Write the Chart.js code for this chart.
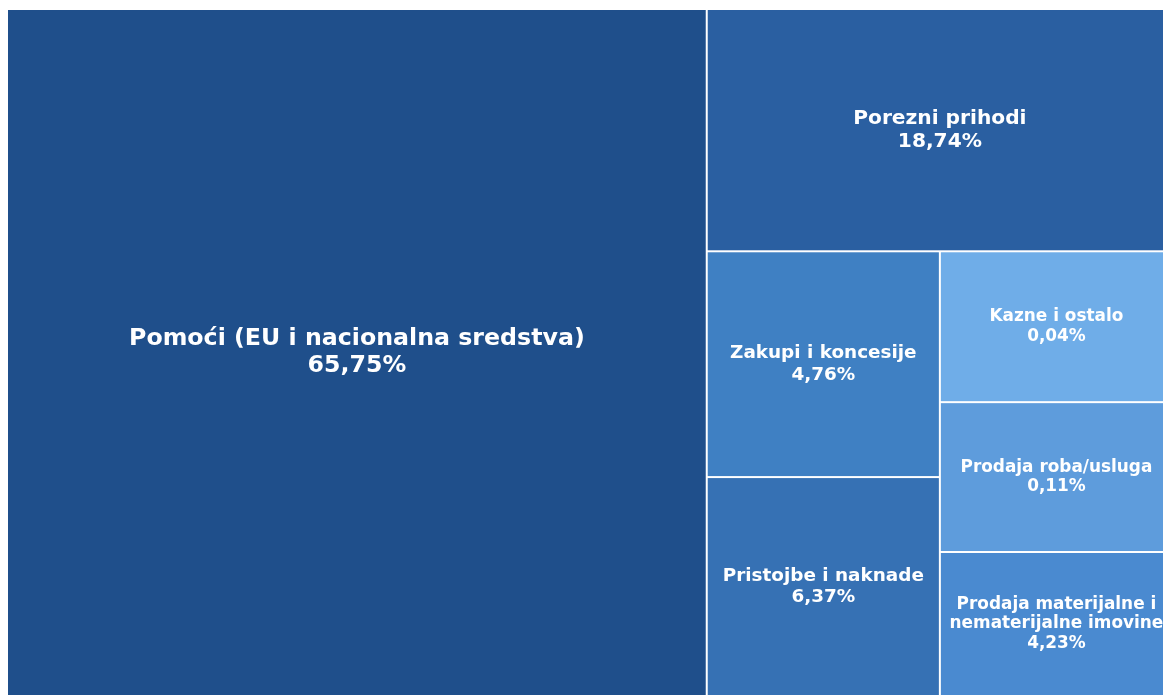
<!DOCTYPE html>
<html>
<head>
<meta charset="utf-8">
<title>Struktura prihoda</title>
<script src="https://cdn.jsdelivr.net/npm/chart.js@4.4.1/dist/chart.umd.min.js"></script>
<style>
  html, body { margin: 0; padding: 0; background: #fff; overflow: hidden; }
  #wrap { position: absolute; left: 7px; top: 9px; width: 1166px; height: 687px; }
</style>
</head>
<body>
<div id="wrap"><canvas id="treemap"></canvas></div>
<script>
const categories = [
  'Pomoći (EU i nacionalna sredstva)',
  'Porezni prihodi',
  'Zakupi i koncesije',
  'Pristojbe i naknade',
  'Kazne i ostalo',
  'Prodaja roba/usluga',
  'Prodaja materijalne i nematerijalne imovine'
];
// share shown on each tile (%)
const shares = [65.75, 18.74, 4.76, 6.37, 0.04, 0.11, 4.23];
// relative tile areas as they appear in the picture
const tileWeights = [60.0, 14.1, 6.57, 6.37, 4.39, 4.36, 4.19];

const tileColors = ['#1f4f8b', '#2a5fa1', '#3f80c3', '#3671b4', '#6fade8', '#5e9cdc', '#4a8ad0'];
const labelFont = '"DejaVu Sans", sans-serif';

function worst(row, side) {
  const s = row.reduce((a, b) => a + b.area, 0);
  const max = Math.max(...row.map(r => r.area));
  const min = Math.min(...row.map(r => r.area));
  return Math.max(side * side * max / (s * s), (s * s) / (side * side * min));
}

// squarified layout, keeps the given order
function squarify(weights, rect) {
  const total = weights.reduce((a, b) => a + b, 0);
  const k = rect.w * rect.h / total;
  const items = weights.map((w, i) => ({ i, area: w * k }));
  const out = [];
  let r = { ...rect };
  let pos = 0;
  while (pos < items.length) {
    const side = Math.min(r.w, r.h);
    const row = [items[pos]];
    pos++;
    while (pos < items.length && worst(row.concat(items[pos]), side) <= worst(row, side)) {
      row.push(items[pos]);
      pos++;
    }
    const sum = row.reduce((a, b) => a + b.area, 0);
    if (r.w >= r.h) {
      const colW = sum / r.h;
      let y = r.y;
      row.forEach(it => {
        const h = it.area / colW;
        out[it.i] = { x: r.x, y: y, w: colW, h: h };
        y += h;
      });
      r.x += colW; r.w -= colW;
    } else {
      const rowH = sum / r.w;
      let x = r.x;
      row.forEach(it => {
        const w = it.area / rowH;
        out[it.i] = { x: x, y: r.y, w: w, h: rowH };
        x += w;
      });
      r.y += rowH; r.h -= rowH;
    }
  }
  return out;
}

function wrapText(ctx, text, maxW) {
  const words = text.split(' ');
  const lines = [];
  let cur = '';
  words.forEach(w => {
    const test = cur ? cur + ' ' + w : w;
    if (ctx.measureText(test).width > maxW && cur) {
      lines.push(cur);
      cur = w;
    } else {
      cur = test;
    }
  });
  if (cur) lines.push(cur);
  return lines;
}

function fontFor(area) {
  if (area > 300000) return 23.7;
  if (area > 80000) return 20.2;
  if (area > 45000) return 18.4;
  return 16.9;
}

const treemapTiles = {
  id: 'treemapTiles',
  afterDatasetsDraw(chart) {
    const { ctx, scales } = chart;
    const x0 = scales.x.getPixelForValue(0);
    const x1 = scales.x.getPixelForValue(100);
    const y0 = scales.y.getPixelForValue(100);
    const y1 = scales.y.getPixelForValue(0);
    const rects = squarify(tileWeights, { x: Math.min(x0, x1), y: Math.min(y0, y1), w: Math.abs(x1 - x0), h: Math.abs(y1 - y0) });

    ctx.save();
    rects.forEach((rc, i) => {
      ctx.fillStyle = tileColors[i];
      ctx.fillRect(rc.x + 1, rc.y + 1, rc.w - 2, rc.h - 2);
    });

    ctx.fillStyle = '#ffffff';
    ctx.textAlign = 'center';
    ctx.textBaseline = 'middle';
    rects.forEach((rc, i) => {
      const size = fontFor(rc.w * rc.h);
      ctx.font = 'bold ' + size + 'px ' + labelFont;
      const lines = wrapText(ctx, categories[i], rc.w - 4);
      lines.push(shares[i].toFixed(2).replace('.', ',') + '%');
      const lh = size * 1.15;
      const cx = rc.x + rc.w / 2;
      const top = rc.y + rc.h / 2 - (lines.length - 1) * lh / 2;
      lines.forEach((ln, j) => ctx.fillText(ln, cx, top + j * lh));
    });
    ctx.restore();
  }
};

new Chart(document.getElementById('treemap'), {
  type: 'scatter',
  data: { datasets: [{ label: 'Prihodi', data: [] }] },
  options: {
    responsive: true,
    maintainAspectRatio: false,
    animation: false,
    layout: { padding: 0 },
    scales: {
      x: { type: 'linear', min: 0, max: 100, display: false },
      y: { type: 'linear', min: 0, max: 100, display: false }
    },
    plugins: {
      legend: { display: false },
      tooltip: { enabled: false }
    }
  },
  plugins: [treemapTiles]
});
</script>
</body>
</html>
